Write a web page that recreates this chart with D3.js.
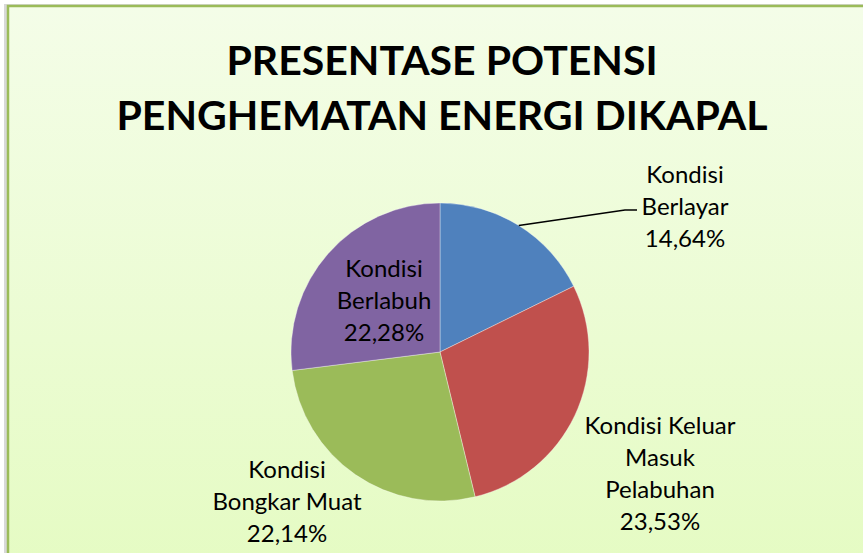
<html lang="en">

<head>
  <meta http-equiv="Content-Type" content="text/html; charset=utf-8" />
  <script src="https://d3js.org/d3.v7.min.js"></script>
  <style>
    body { margin: 0; overflow: hidden; }
  </style>
</head>

<body>
  <div id="divId"></div>

  <script>
    // ---- data
    const titleLines = ["PRESENTASE POTENSI", "PENGHEMATAN ENERGI DIKAPAL"];
    const categories = ["Kondisi Berlayar", "Kondisi Keluar Masuk Pelabuhan", "Kondisi Bongkar Muat", "Kondisi Berlabuh"];
    const values = [14.64, 23.53, 22.14, 22.28];
    const valueLabels = ["14,64%", "23,53%", "22,14%", "22,28%"];
    // how each label is broken into lines (as in the picture)
    const labelLines = [
      ["Kondisi", "Berlayar"],
      ["Kondisi Keluar", "Masuk", "Pelabuhan"],
      ["Kondisi", "Bongkar Muat"],
      ["Kondisi", "Berlabuh"],
    ];

    const slice_colors = ["#4F81BD", "#C0504D", "#9BBB59", "#8064A2"];

    // ---- layout
    const svg_width = 863;
    const svg_height = 553;
    const cx = 440, cy = 352, radius = 149;
    const labelFont = "Lato, 'Open Sans', sans-serif";
    const lineHeight = 32;
    // label block centre, relative to pie centre (dx, dy of first baseline)
    const labelOffsets = [[245, -169], [220, 82], [-153, 126], [-56, -75]];

    const svg = d3.select("#divId")
      .append("svg")
      .attr("width", svg_width)
      .attr("height", svg_height);

    const defs = svg.append("defs");
    const grad = defs.append("linearGradient")
      .attr("id", "bg")
      .attr("x1", 0).attr("y1", 0).attr("x2", 0).attr("y2", 1);
    grad.append("stop").attr("offset", "0%").attr("stop-color", "#F4FDE8");
    grad.append("stop").attr("offset", "100%").attr("stop-color", "#D9FAA6");

    // page + shadow + chart frame
    svg.append("rect").attr("width", svg_width).attr("height", svg_height).attr("fill", "#ffffff");
    svg.append("rect")
      .attr("x", 4).attr("y", 4).attr("width", 1000).attr("height", 1000)
      .attr("fill", "#d8d8d8");
    svg.append("rect")
      .attr("x", 8).attr("y", 6).attr("width", 1000).attr("height", 1000)
      .attr("fill", "url(#bg)")
      .attr("stroke", "#9BBB59")
      .attr("stroke-width", 2.5);

    // title
    svg.append("g")
      .selectAll("text")
      .data(titleLines)
      .enter()
      .append("text")
      .attr("x", 442)
      .attr("y", (d, i) => 75 + i * 55)
      .attr("text-anchor", "middle")
      .attr("font-family", labelFont)
      .attr("font-weight", "bold")
      .attr("font-size", 41)
      .attr("fill", "#000")
      .text(d => d);

    // pie
    const pie = d3.pie().sort(null).value(d => d);
    const arcs = pie(values);
    const arc = d3.arc().innerRadius(0).outerRadius(radius);

    const g = svg.append("g").attr("transform", `translate(${cx},${cy})`);

    g.selectAll("path")
      .data(arcs)
      .enter()
      .append("path")
      .attr("d", arc)
      .attr("fill", (d, i) => slice_colors[i])
      .attr("stroke", "rgba(255,255,255,0.45)")
      .attr("stroke-width", 0.8);

    // leader line for the first label (dragged outside)
    const edge = d3.arc().innerRadius(radius).outerRadius(radius);
    const start = edge.centroid(arcs[0]);
    const lx = labelOffsets[0][0], ly = labelOffsets[0][1] + lineHeight - 5;
    g.append("polyline")
      .attr("points", [start, [lx - 60, ly], [lx - 48, ly]].map(p => p.join(",")).join(" "))
      .attr("fill", "none")
      .attr("stroke", "#000")
      .attr("stroke-width", 1.6);

    // labels
    const labels = g.append("g")
      .selectAll("text")
      .data(arcs)
      .enter()
      .append("text")
      .attr("text-anchor", "middle")
      .attr("font-family", labelFont)
      .attr("font-size", 24)
      .attr("fill", "#000")
      .attr("transform", (d, i) => `translate(${labelOffsets[i][0]},${labelOffsets[i][1]})`);

    labels.selectAll("tspan")
      .data((d, i) => labelLines[i].concat([valueLabels[i]]))
      .enter()
      .append("tspan")
      .attr("x", 0)
      .attr("y", (d, j) => j * lineHeight)
      .text(d => d);
  </script>
</body>

</html>
